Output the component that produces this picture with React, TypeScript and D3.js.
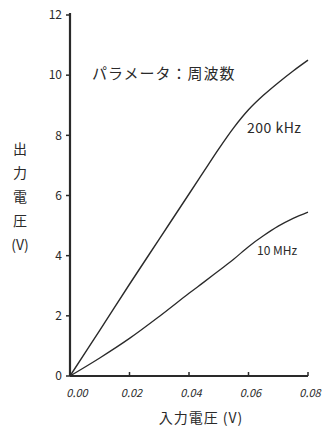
import React from "react";
import * as d3 from "d3";

const xTicks = [0, 0.02, 0.04, 0.06, 0.08];
const xTickLabels = ["0.00", "0.02", "0.04", "0.06", "0.08"];
const yTicks = [0, 2, 4, 6, 8, 10, 12];

const inputV = [0, 0.01, 0.02, 0.03, 0.04, 0.045, 0.05, 0.055, 0.06, 0.065, 0.07, 0.075, 0.08];
const out200k = [0, 1.52, 3.05, 4.55, 6.05, 6.8, 7.55, 8.25, 8.85, 9.33, 9.75, 10.14, 10.5];
const out10M = [0, 0.6, 1.25, 1.98, 2.75, 3.12, 3.5, 3.88, 4.3, 4.66, 4.98, 5.24, 5.45];

const seriesLabels = ["200 kHz", "10 MHz"];
const yTitleChars = ["出", "力", "電", "圧", "(V)"];
const xTitle = "入力電圧 (V)";
const note = "パラメータ：周波数";

export default function App() {
  const W = 325, H = 429;
  const x = d3.scaleLinear().domain([0, 0.08]).range([70, 308]);
  const y = d3.scaleLinear().domain([0, 12]).range([376, 15]);
  const line = d3.line<number>().x((_, i) => x(inputV[i])).y((d) => y(d)).curve(d3.curveCatmullRom);
  const ink = "#2a2a2a";
  const font = "'Noto Sans CJK JP', 'Noto Sans', sans-serif";
  return (
    <svg width={W} height={H} style={{ display: "block", position: "absolute", left: 0, top: 0, background: "#fff" }} fontFamily={font}>
      <rect width={W} height={H} fill="#fff" />
      {/* axes */}
      <line x1={x(0)} x2={x(0)} y1={y(12) - 2} y2={y(0)} stroke={ink} strokeWidth={2.2} />
      <line x1={x(0)} x2={x(0.08)} y1={y(0)} y2={y(0)} stroke={ink} strokeWidth={2.2} />
      {yTicks.map((t) => (
        <g key={"y" + t}>
          <line x1={x(0) - 4} x2={x(0)} y1={y(t)} y2={y(t)} stroke={ink} strokeWidth={1.5} />
          <text x={x(0) - 8} y={y(t)} dy="0.35em" textAnchor="end" fontSize={12} fill={ink}>{t}</text>
        </g>
      ))}
      {xTicks.map((t, i) => (
        <g key={"x" + t}>
          <line x1={x(t)} x2={x(t)} y1={y(0)} y2={y(0) - 4} stroke={ink} strokeWidth={1.5} />
          <text x={x(t) + (i === 0 ? 7 : 2)} y={y(0) + 21} textAnchor="middle" fontSize={11} fontStyle="italic" fill={ink}>{xTickLabels[i]}</text>
        </g>
      ))}
      {/* curves */}
      <path d={line(out200k) || ""} fill="none" stroke={ink} strokeWidth={1.4} />
      <path d={line(out10M) || ""} fill="none" stroke={ink} strokeWidth={1.3} />
      {/* labels */}
      <text x={247} y={128} dy="0.35em" fontSize={14} letterSpacing={0.5} fill={ink}>{seriesLabels[0]}</text>
      <text x={257} y={251} dy="0.35em" fontSize={12} fill={ink}>{seriesLabels[1]}</text>
      <text x={92} y={74} dy="0.35em" fontSize={15} letterSpacing={1} fill={ink}>{note}</text>
      {yTitleChars.map((c, i) => (
        <text key={c} x={20} y={149 + i * 24} dy="0.35em" textAnchor="middle" fontSize={14} fill={ink}>{c}</text>
      ))}
      <text x={201} y={418} dy="0.35em" textAnchor="middle" fontSize={14} letterSpacing={1} fill={ink}>{xTitle}</text>
    </svg>
  );
}
